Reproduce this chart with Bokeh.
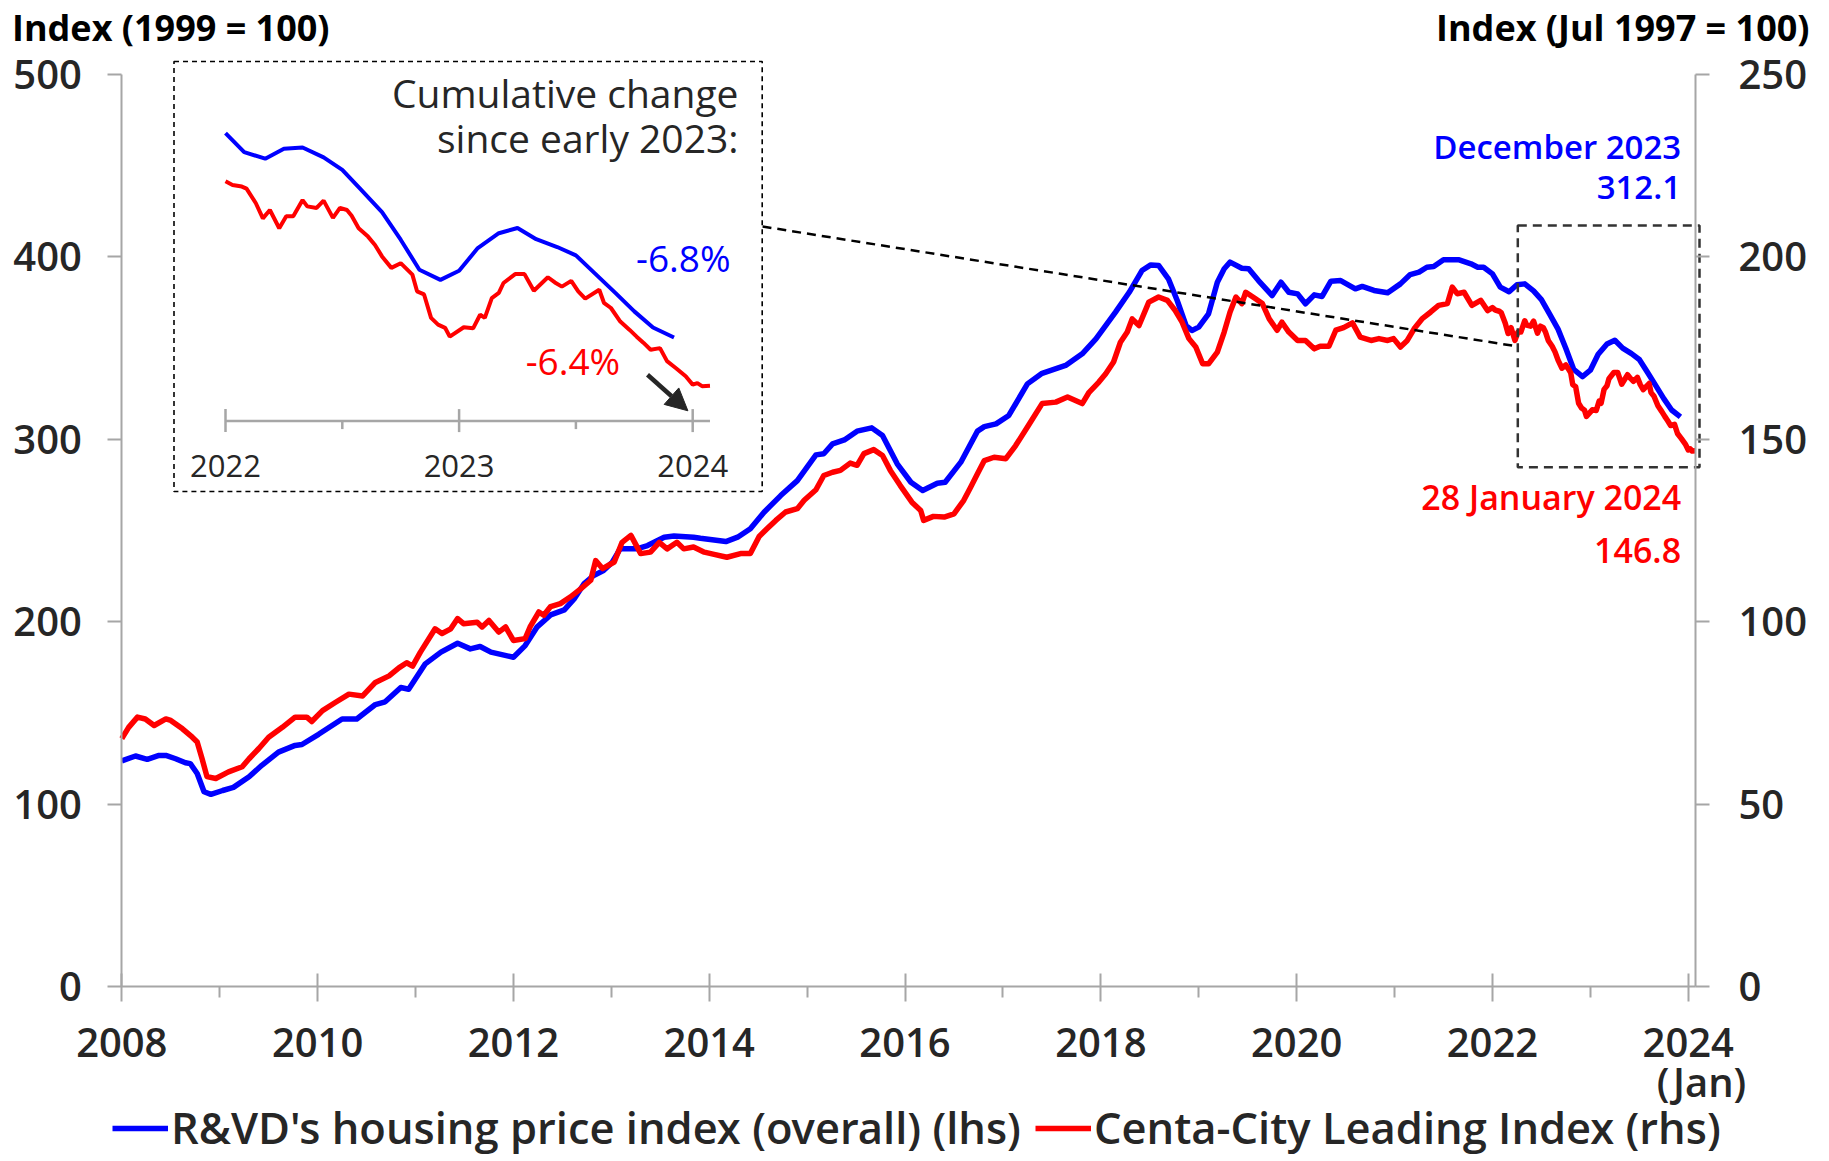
from bokeh.plotting import figure
from bokeh.models import (Range1d, LinearAxis, FixedTicker, Label, Legend, LegendItem,
                          Arrow, NormalHead)
from bokeh.core.properties import value
from bokeh.embed import file_html
from bokeh.resources import INLINE

# ------------------------------------------------------------------ data
# R&VD's housing price index (overall), 1999 = 100 (lhs) -- decimal year, value
blue_t = [2008.00, 2008.14, 2008.26, 2008.38, 2008.45, 2008.55, 2008.65, 2008.70, 2008.77, 2008.84,
          2008.91, 2009.03, 2009.14, 2009.30, 2009.43, 2009.60, 2009.77, 2009.84, 2010.01, 2010.25,
          2010.40, 2010.59, 2010.69, 2010.85, 2010.93, 2011.10, 2011.26, 2011.43, 2011.56, 2011.66,
          2011.77, 2012.00, 2012.12, 2012.24, 2012.38, 2012.52, 2012.62, 2012.72, 2012.82, 2012.92,
          2013.01, 2013.09, 2013.26, 2013.37, 2013.54, 2013.64, 2013.84, 2013.91, 2014.17, 2014.29,
          2014.42, 2014.56, 2014.73, 2014.90, 2015.09, 2015.17, 2015.26, 2015.38, 2015.51, 2015.66,
          2015.77, 2015.92, 2016.06, 2016.18, 2016.33, 2016.41, 2016.57, 2016.74, 2016.81, 2016.93,
          2017.06, 2017.25, 2017.40, 2017.64, 2017.81, 2017.95, 2018.15, 2018.29, 2018.42, 2018.51,
          2018.59, 2018.69, 2018.78, 2018.87, 2018.93, 2019.00, 2019.10, 2019.19, 2019.26, 2019.32,
          2019.44, 2019.51, 2019.61, 2019.75, 2019.84, 2019.92, 2020.01, 2020.09, 2020.18, 2020.26,
          2020.35, 2020.45, 2020.60, 2020.67, 2020.79, 2020.93, 2021.06, 2021.16, 2021.25, 2021.33,
          2021.40, 2021.50, 2021.66, 2021.78, 2021.85, 2021.91,
          2022.00, 2022.08, 2022.17, 2022.25, 2022.33, 2022.42, 2022.50, 2022.58, 2022.67, 2022.75,
          2022.83, 2022.92, 2023.00, 2023.08, 2023.17, 2023.25, 2023.33, 2023.42, 2023.50, 2023.58,
          2023.67, 2023.75, 2023.83, 2023.92]
blue_v = [123.6, 126.3, 124.5, 126.6, 126.6, 124.8, 122.6, 122.1, 116.7, 106.7,
          105.3, 107.4, 109.1, 114.9, 121.2, 128.4, 132.1, 132.6, 138.2, 146.6,
          146.6, 154.5, 156.0, 163.8, 162.9, 176.8, 183.2, 188.1, 185.0, 186.3,
          183.2, 180.4, 186.8, 196.9, 203.6, 206.4, 212.4, 220.6, 225.2, 227.9,
          232.5, 239.8, 239.8, 241.6, 246.2, 246.8, 246.2, 245.6, 243.8, 246.2,
          250.8, 259.9, 269.0, 277.2, 291.3, 291.9, 297.3, 299.5, 304.3, 306.1,
          301.9, 286.4, 276.3, 271.8, 275.8, 276.3, 287.3, 304.3, 306.8, 308.3,
          312.9, 330.2, 336.0, 340.3, 346.7, 354.9, 369.5, 380.4, 392.3, 395.4,
          395.1, 387.8, 375.9, 362.2, 359.5, 361.3, 368.6, 385.9, 393.3, 396.9,
          393.6, 393.3, 386.8, 378.6, 385.9, 380.4, 379.5, 374.1, 379.0, 378.1,
          386.5, 386.8, 382.3, 383.6, 381.4, 380.1, 385.0, 390.1, 391.4, 394.1,
          394.5, 398.2, 398.2, 396.0, 394.1, 394.1,
          390.5, 383.2, 380.7, 384.5, 385.0, 381.2, 376.4, 368.8, 360.2, 349.6,
          338.1, 334.2, 337.7, 346.4, 352.1, 354.1, 349.8, 346.8, 343.6, 336.8,
          329.1, 322.1, 315.9, 312.1]

# Centa-City Leading Index, Jul 1997 = 100 (rhs) -- decimal year, value
red_t = [2008.00, 2008.07, 2008.16, 2008.24, 2008.33, 2008.45, 2008.50, 2008.62, 2008.72, 2008.77,
         2008.82, 2008.87, 2008.96, 2009.09, 2009.23, 2009.30, 2009.40, 2009.50, 2009.64, 2009.77,
         2009.89, 2009.94, 2010.05, 2010.18, 2010.32, 2010.46, 2010.59, 2010.73, 2010.83, 2010.91,
         2010.97, 2011.05, 2011.20, 2011.27, 2011.36, 2011.43, 2011.49, 2011.63, 2011.68, 2011.75,
         2011.85, 2011.92, 2012.00, 2012.12, 2012.17, 2012.26, 2012.31, 2012.38, 2012.48, 2012.58,
         2012.69, 2012.79, 2012.84, 2012.91, 2013.03, 2013.11, 2013.20, 2013.30, 2013.40, 2013.49,
         2013.57, 2013.67, 2013.74, 2013.84, 2013.95, 2014.05, 2014.18, 2014.32, 2014.42, 2014.51,
         2014.59, 2014.68, 2014.78, 2014.90, 2014.97, 2015.09, 2015.17, 2015.26, 2015.34, 2015.44,
         2015.51, 2015.58, 2015.68, 2015.77, 2015.85, 2015.95, 2016.07, 2016.16, 2016.19, 2016.29,
         2016.40, 2016.50, 2016.60, 2016.67, 2016.74, 2016.81, 2016.91, 2017.03, 2017.13, 2017.26,
         2017.40, 2017.54, 2017.66, 2017.81, 2017.88, 2017.98, 2018.05, 2018.13, 2018.20, 2018.27,
         2018.32, 2018.39, 2018.49, 2018.59, 2018.68, 2018.76, 2018.83, 2018.90, 2018.97, 2019.04,
         2019.10, 2019.19, 2019.26, 2019.32, 2019.38, 2019.44, 2019.48, 2019.58, 2019.65, 2019.72,
         2019.80, 2019.85, 2019.92, 2020.01, 2020.09, 2020.18, 2020.24, 2020.33, 2020.40, 2020.48,
         2020.57, 2020.65, 2020.76, 2020.84, 2020.93, 2020.99, 2021.06, 2021.13, 2021.20, 2021.28,
         2021.37, 2021.45, 2021.54, 2021.59, 2021.64, 2021.71, 2021.79, 2021.88, 2021.95,
         2022.00, 2022.03, 2022.07, 2022.09, 2022.13, 2022.16, 2022.19, 2022.23, 2022.26, 2022.29,
         2022.33, 2022.35, 2022.39, 2022.42, 2022.46, 2022.49, 2022.52, 2022.54, 2022.57, 2022.61,
         2022.64, 2022.67, 2022.71, 2022.75, 2022.80, 2022.82, 2022.85, 2022.88, 2022.91, 2022.94,
         2022.96, 2023.02, 2023.06, 2023.09, 2023.11, 2023.14, 2023.17, 2023.19, 2023.24, 2023.28,
         2023.32, 2023.38, 2023.41, 2023.44, 2023.48, 2023.51, 2023.54, 2023.60, 2023.62, 2023.65,
         2023.69, 2023.73, 2023.76, 2023.79, 2023.82, 2023.86, 2023.89, 2023.93, 2023.97, 2024.00,
         2024.02, 2024.04, 2024.074]
red_v = [67.9, 71.0, 73.8, 73.3, 71.5, 73.3, 72.9, 70.6, 68.3, 67.0,
         62.4, 57.5, 57.0, 58.8, 60.2, 62.4, 65.2, 68.3, 71.0, 73.8,
         73.8, 72.6, 75.6, 77.8, 80.1, 79.6, 83.3, 85.1, 87.3, 88.7,
         87.8, 91.6, 98.0, 96.7, 98.0, 100.8, 99.4, 99.8, 98.5, 100.3,
         97.1, 98.5, 94.8, 95.3, 98.5, 102.6, 101.7, 104.1, 104.9, 106.7,
         109.0, 111.3, 116.7, 114.5, 116.3, 121.7, 123.6, 118.6, 119.0, 121.7,
         119.9, 121.7, 119.9, 120.4, 119.0, 118.4, 117.6, 118.6, 118.6, 123.3,
         125.4, 127.7, 130.0, 130.9, 133.2, 136.1, 140.0, 140.9, 141.4, 143.4,
         142.8, 146.0, 147.1, 145.5, 141.4, 137.3, 132.7, 130.4, 127.7, 128.8,
         128.6, 129.5, 133.2, 136.8, 140.5, 144.1, 145.0, 144.6, 148.2, 153.7,
         159.7, 160.1, 161.5, 159.7, 162.8, 165.6, 167.9, 171.1, 176.5, 179.3,
         182.9, 181.1, 187.5, 188.9, 188.0, 185.2, 182.0, 177.5, 175.2, 170.6,
         170.6, 173.8, 179.3, 184.8, 188.9, 187.1, 190.2, 188.4, 187.1, 182.9,
         179.8, 182.0, 179.3, 177.0, 177.0, 174.7, 175.4, 175.4, 179.8, 180.5,
         181.8, 177.9, 177.0, 177.5, 177.0, 177.5, 175.2, 177.0, 180.2, 182.9,
         184.8, 186.6, 187.1, 191.6, 189.8, 190.2, 186.6, 188.0, 185.2,
         186.0, 185.3, 185.0, 184.6, 181.8, 178.9, 180.5, 177.0, 179.3, 179.3,
         182.4, 181.2, 180.9, 182.3, 179.0, 180.9, 180.5, 179.4, 177.0, 175.4,
         173.8, 171.6, 169.4, 170.3, 168.1, 164.9, 164.3, 159.8, 158.5, 157.9,
         156.2, 158.0, 157.8, 160.4, 159.8, 163.6, 164.6, 166.5, 168.2, 168.2,
         165.0, 167.6, 166.6, 165.8, 166.9, 164.9, 163.5, 165.2, 162.7, 161.7,
         159.1, 157.5, 156.2, 155.0, 153.7, 154.0, 151.5, 150.1, 148.6, 147.0,
         147.3, 146.7, 146.8]

x_ticks = [2008, 2010, 2012, 2014, 2016, 2018, 2020, 2022, 2024]
x_minor_ticks = [2009, 2011, 2013, 2015, 2017, 2019, 2021, 2023]
last_month_note = "(Jan)"
lhs_ticks = [0, 100, 200, 300, 400, 500]
rhs_ticks = [0, 50, 100, 150, 200, 250]
inset_ticks = [2022, 2023, 2024]
inset_minor_ticks = [2022.5, 2023.5]
inset_tick_labels = ["2022", "2023", "2024"]
inset_start = 2022
inset_floor = 280          # lhs value at the inset's own time axis
last_date = 2024.074       # 28 January 2024

lhs_title = "Index (1999 = 100)"
rhs_title = "Index (Jul 1997 = 100)"
blue_name = "R&VD's housing price index (overall) (lhs)"
red_name = "Centa-City Leading Index (rhs)"
blue_last = ["December 2023", "312.1"]
red_last = ["28 January 2024", "146.8"]
inset_title = ["Cumulative change", "since early 2023:"]
blue_change = "-6.8%"
red_change = "-6.4%"

# ------------------------------------------------------------------ layout / style
BLUE, RED = "#0000FF", "#FF0000"
TXT = "#262626"
AXC = "#A6A6A6"
F_REG = "Open Sans"
F_SEMI = "Open Sans SemiBold, Open Sans"

W, H = 1829, 1161
X0_PX, X1_PX = 121.3, 1695.0     # canvas px of 2008 and of last_date
Y0_PX, Y500_PX = 986.0, 73.5     # canvas px of 0 and of 500 (lhs)
PPX = (X1_PX - X0_PX) / (last_date - 2008)
PPY = (Y0_PX - Y500_PX) / 500
BASE_FIX = 14.5                  # renderer's alphabetic-baseline offset (px)


def dx(px):  # canvas pixel -> main x data
    return 2008 + (px - X0_PX) / PPX


def dy(py):  # canvas pixel -> main lhs data
    return (Y0_PX - py) / PPY


y_lo, y_hi = dy(H), dy(0)

# inset mapping (own scales inside the same canvas)
IX_PX0, IX_PPY = 225.0, 233.6        # canvas px of inset_start, px per year
IY_PX_FLOOR, IY_PPU = 420.6, 2.606   # canvas px of inset_floor, px per lhs unit
ix_range = Range1d(inset_start - IX_PX0 / IX_PPY, inset_start + (W - IX_PX0) / IX_PPY)
iy_hi = inset_floor + IY_PX_FLOOR / IY_PPU
iy_lo = iy_hi - H / IY_PPU

p = figure(width=W, height=H, min_border=0,
           x_range=Range1d(dx(0), dx(W)), y_range=Range1d(y_lo, y_hi),
           output_backend="svg", toolbar_location=None, background_fill_color="white")
p.outline_line_color = None
p.grid.visible = False
p.extra_y_ranges = {"rhs": Range1d(y_lo / 2, y_hi / 2),
                    "iy": Range1d(iy_lo, iy_hi), "iy2": Range1d(iy_lo / 2, iy_hi / 2)}
p.extra_x_ranges = {"ix": ix_range}

# axes (fixed inside the canvas)
xa = p.xaxis[0]
xa.fixed_location = 0
xa.ticker = FixedTicker(ticks=x_ticks, minor_ticks=x_minor_ticks)
xa.bounds = (2008, last_date)
xa.major_tick_in, xa.major_tick_out = 13, 15
xa.minor_tick_in, xa.minor_tick_out = 0, 11
xa.major_label_standoff = 26

ya = p.yaxis[0]
ya.fixed_location = 2008
ya.ticker = FixedTicker(ticks=lhs_ticks)
ya.bounds = (0, 500)
ya.major_label_standoff = 26
ra = LinearAxis(y_range_name="rhs", ticker=FixedTicker(ticks=rhs_ticks), bounds=(0, 250),
                fixed_location=last_date)
ra.major_label_standoff = 29
p.add_layout(ra, "right")
for a in (ya, ra):
    a.major_tick_in, a.major_tick_out = 0, 14
for a in (xa, ya, ra):
    a.axis_line_color = AXC
    a.axis_line_width = 2
    a.major_tick_line_color = AXC
    a.major_tick_line_width = 2
    a.minor_tick_line_color = AXC if a is xa else None
    a.minor_tick_line_width = 2
    a.major_label_text_font = F_SEMI
    a.major_label_text_font_size = "40px"
    a.major_label_text_color = TXT

# main series
blue_r = p.line(blue_t, blue_v, line_color=BLUE, line_width=5.5, line_join="round")
red_r = p.line(red_t, red_v, line_color=RED, line_width=5.5, line_join="round", y_range_name="rhs")

# highlighted window + connector
p.quad(left=[dx(1517.3)], right=[dx(1699)], top=[dy(225)], bottom=[dy(466.7)],
       fill_alpha=0, line_color="#333333", line_width=2.5, line_dash="9 6")
p.segment(x0=[dx(762)], y0=[dy(226)], x1=[dx(1517.3)], y1=[dy(346)],
          line_color="black", line_width=2.5, line_dash="9 6")

# inset frame
p.quad(left=[dx(173.5)], right=[dx(761.7)], top=[dy(61)], bottom=[dy(491)],
       fill_color="white", fill_alpha=1, line_color="black", line_width=1.6, line_dash="5 4")

# inset series
bi = [i for i, t in enumerate(blue_t) if t >= inset_start]
ri = [i for i, t in enumerate(red_t) if t >= inset_start]
p.line([blue_t[i] for i in bi], [blue_v[i] for i in bi], line_color=BLUE, line_width=4,
       x_range_name="ix", y_range_name="iy")
p.line([red_t[i] for i in ri], [red_v[i] for i in ri], line_color=RED, line_width=4,
       x_range_name="ix", y_range_name="iy2")

# inset time axis
p.segment(x0=[inset_start], y0=[inset_floor], x1=[last_date], y1=[inset_floor],
          line_color=AXC, line_width=2.5, x_range_name="ix", y_range_name="iy")
p.segment(x0=inset_ticks, x1=inset_ticks, y0=[inset_floor + 12 / IY_PPU] * len(inset_ticks),
          y1=[inset_floor - 11 / IY_PPU] * len(inset_ticks),
          line_color=AXC, line_width=2.5, x_range_name="ix", y_range_name="iy")
p.segment(x0=inset_minor_ticks, x1=inset_minor_ticks, y0=[inset_floor] * len(inset_minor_ticks),
          y1=[inset_floor - 8 / IY_PPU] * len(inset_minor_ticks),
          line_color=AXC, line_width=2.5, x_range_name="ix", y_range_name="iy")
p.text(x=inset_ticks, y=[inset_floor - 45 / IY_PPU] * len(inset_ticks), text=inset_tick_labels,
       text_font=value(F_REG), text_font_size="31px", text_color=TXT, text_align="center",
       text_baseline="alphabetic", x_range_name="ix", y_range_name="iy")


def lab(px, py, t, size, color=TXT, font=F_SEMI, align="left", style="normal", baseline="alphabetic"):
    fix = BASE_FIX if baseline == "alphabetic" else 0
    p.add_layout(Label(x=dx(px), y=dy(py - fix), text=t, text_font=font, text_font_size=size,
                       text_color=color, text_align=align, text_baseline=baseline,
                       text_font_style=style))


# titles
lab(11.5, 41, lhs_title, "36px", color="black", font=F_REG, style="bold")
lab(1809, 41, rhs_title, "36px", color="black", font=F_REG, style="bold", align="right")

# "(Jan)" under the last tick
lab(1701, 1081, last_month_note, "40px", align="center", baseline="middle")

# end-point annotations
lab(1680.6, 160.7, blue_last[0], "33px", color=BLUE, align="right")
lab(1680.6, 201, blue_last[1], "33px", color=BLUE, align="right")
lab(1680.6, 511, red_last[0], "34px", color=RED, align="right")
lab(1680.6, 564.5, red_last[1], "34px", color=RED, align="right")

# inset texts
lab(738, 106, inset_title[0], "39px", font=F_REG, align="right")
lab(738, 151.7, inset_title[1], "39px", font=F_REG, align="right")
lab(730, 271, blue_change, "37px", color=BLUE, font=F_REG, align="right")
lab(619.7, 374.3, red_change, "37px", color=RED, font=F_REG, align="right")
p.add_layout(Arrow(end=NormalHead(size=22, fill_color=TXT, line_color=TXT, line_width=1),
                   x_start=dx(647), y_start=dy(374.3), x_end=dx(687.4), y_end=dy(410.3),
                   line_color=TXT, line_width=4.5))

# legend
legend = Legend(items=[LegendItem(label=blue_name, renderers=[blue_r]),
                       LegendItem(label=red_name, renderers=[red_r])],
                orientation="horizontal", location=(112, 4),
                label_text_font=F_SEMI, label_text_font_size="43.5px", label_text_color=TXT,
                glyph_width=56, glyph_height=44, label_height=44, label_standoff=3, spacing=14,
                padding=0, margin=0, border_line_alpha=0, background_fill_alpha=0)
p.add_layout(legend)

open("out.html", "w").write(file_html(p, INLINE))
